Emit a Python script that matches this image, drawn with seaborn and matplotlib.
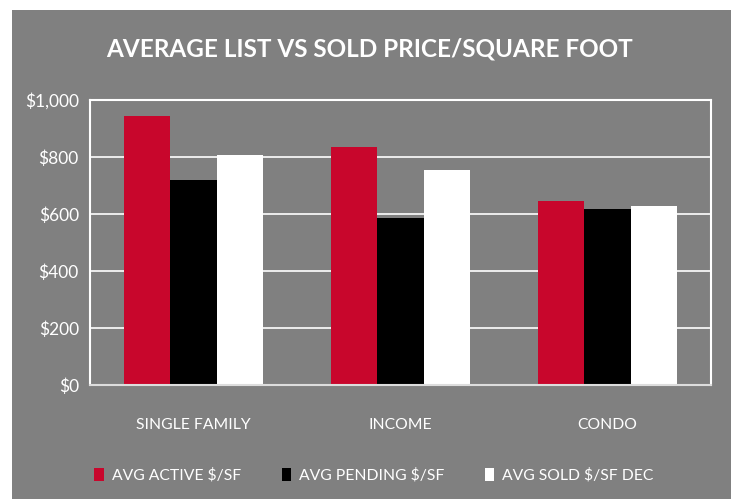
import matplotlib
matplotlib.use("Agg")
import matplotlib.pyplot as plt
import seaborn as sns
import pandas as pd
from matplotlib.patches import Rectangle, Patch
from matplotlib.ticker import FuncFormatter

categories = ["SINGLE FAMILY", "INCOME", "CONDO"]
series = ["AVG ACTIVE $/SF", "AVG PENDING $/SF", "AVG SOLD $/SF DEC"]
active = [945, 834, 646]
pending = [720, 585, 617]
sold = [808, 756, 627]
colors = ["#C8062C", "#000000", "#FFFFFF"]
yticks = [0, 200, 400, 600, 800, 1000]

rows = []
for s, vals in zip(series, [active, pending, sold]):
    for c, v in zip(categories, vals):
        rows.append({"category": c, "series": s, "value": v})
df = pd.DataFrame(rows)

sns.set_theme(style="white")
FONT = ["Lato", "DejaVu Sans"]
plt.rcParams["font.family"] = FONT

BG = "#808080"
fig = plt.figure(figsize=(7.39, 4.99), dpi=100)
fig.patch.set_facecolor("white")
fig.patches.append(Rectangle((12 / 739, 0), (731 - 12) / 739, 1 - 10 / 499,
                             transform=fig.transFigure, facecolor=BG,
                             edgecolor="none", zorder=-10))

W, H = 739, 499
ax = fig.add_axes([90 / W, 1 - 385 / H, (711 - 90) / W, (385 - 100) / H])
ax.set_facecolor(BG)

sns.barplot(data=df, x="category", y="value", hue="series", palette=colors,
            order=categories, hue_order=series, width=0.667, gap=0,
            saturation=1, edgecolor="none", linewidth=0, ax=ax, legend=False)

ax.set_ylim(0, 1000)
ax.set_xlim(-0.5, 2.5)
ax.set_yticks(yticks)
ax.yaxis.set_major_formatter(FuncFormatter(lambda v, p: "${:,.0f}".format(v)))
for y in yticks[1:-1]:
    ax.axhline(y, color="white", lw=1.2, zorder=0)
for sp in ax.spines.values():
    sp.set_visible(True)
    sp.set_color("white")
    sp.set_linewidth(1.5)
ax.spines["bottom"].set_color("#DDDDDD")
ax.set_xlabel("")
ax.set_ylabel("")
ax.tick_params(axis="y", colors="white", labelsize=12.5, length=0, pad=8)
ax.tick_params(axis="x", colors="white", labelsize=11.3, length=0, pad=24)
for lab in ax.get_yticklabels() + ax.get_xticklabels():
    lab.set_color("white")
ax.set_xticks([0.5, 1.5], minor=True)
ax.tick_params(axis="x", which="minor", length=4, color="#DDDDDD", direction="out")

fig.text(370 / W, 1 - 49 / H, "AVERAGE LIST VS SOLD PRICE/SQUARE FOOT",
         ha="center", va="center", color="white", fontsize=17.5,
         fontweight="bold", family=FONT)

handles = [Patch(facecolor=c, edgecolor="none") for c in colors]
leg = fig.legend(handles, series, loc="center", bbox_to_anchor=(374 / W, 1 - 475 / H),
                 ncol=3, frameon=False, fontsize=11.3, handlelength=0.6,
                 handleheight=0.9, handletextpad=0.5, columnspacing=2.6)
for t in leg.get_texts():
    t.set_color("white")

fig.savefig("out.png", dpi=100, facecolor=fig.get_facecolor())
